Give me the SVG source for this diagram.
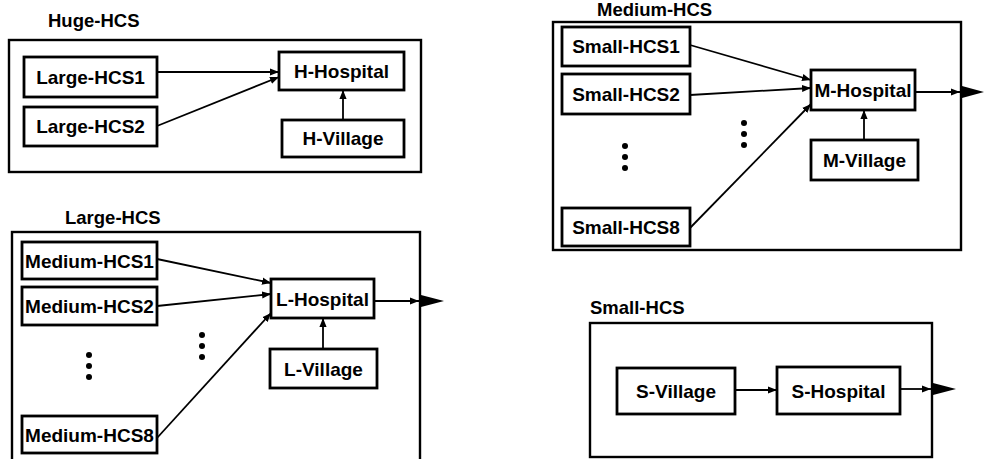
<svg xmlns="http://www.w3.org/2000/svg" width="984" height="459" viewBox="0 0 984 459">
  <defs>
    <marker id="tip" viewBox="0 0 10 10" refX="10" refY="5" markerWidth="9" markerHeight="9" markerUnits="userSpaceOnUse" orient="auto">
      <path d="M0,1 L10,5 L0,9 Z" fill="#000"/>
    </marker>
  </defs>
  <style>
    .frame { fill: #fff; stroke: #000; stroke-width: 2.4; }
    .box { fill: #fff; stroke: #000; stroke-width: 2.8; }
    .lbl { font-family: "Liberation Sans", Arial, sans-serif; font-weight: bold; font-size: 19px; fill: #000; }
    .title { font-family: "Liberation Sans", Arial, sans-serif; font-weight: bold; font-size: 18.5px; fill: #000; }
    .edge { stroke: #000; stroke-width: 1.8; fill: none; marker-end: url(#tip); }
    .dot { fill: #000; }
    .out { fill: #000; }
  </style>
  <rect width="984" height="459" fill="#fff"/>

  <!-- Huge-HCS frame -->
  <g id="huge-hcs">
    <text class="title" x="48" y="27">Huge-HCS</text>
    <rect class="frame" x="9" y="40" width="412" height="132"/>
  </g>
  <g id="large-hcs1"><rect class="box" x="24" y="57" width="133" height="40"/><text class="lbl" x="90.5" y="84" text-anchor="middle">Large-HCS1</text></g>
  <g id="large-hcs2"><rect class="box" x="24" y="107" width="133" height="39"/><text class="lbl" x="90.5" y="133" text-anchor="middle">Large-HCS2</text></g>
  <g id="h-hospital"><rect class="box" x="279" y="52" width="125" height="38"/><text class="lbl" x="341.5" y="78" text-anchor="middle">H-Hospital</text></g>
  <g id="h-village"><rect class="box" x="282" y="120" width="122" height="37"/><text class="lbl" x="343" y="145" text-anchor="middle">H-Village</text></g>

  <!-- Large-HCS frame -->
  <g id="large-hcs">
    <text class="title" x="65" y="224">Large-HCS</text>
    <rect class="frame" x="12" y="232" width="408" height="240"/>
  </g>
  <g id="medium-hcs1"><rect class="box" x="22" y="242" width="135" height="37"/><text class="lbl" x="89.5" y="267.5" text-anchor="middle">Medium-HCS1</text></g>
  <g id="medium-hcs2"><rect class="box" x="22" y="287" width="135" height="38"/><text class="lbl" x="89.5" y="313" text-anchor="middle">Medium-HCS2</text></g>
  <g id="medium-hcs8"><rect class="box" x="22" y="416" width="135" height="37"/><text class="lbl" x="89.5" y="441.5" text-anchor="middle">Medium-HCS8</text></g>
  <g id="l-hospital"><rect class="box" x="271" y="279" width="103" height="39"/><text class="lbl" x="322.5" y="305.5" text-anchor="middle">L-Hospital</text></g>
  <g id="l-village"><rect class="box" x="270" y="349" width="107" height="39"/><text class="lbl" x="323.5" y="375.5" text-anchor="middle">L-Village</text></g>
  <g id="large-dots">
    <circle class="dot" cx="89" cy="355" r="3"/><circle class="dot" cx="89" cy="366" r="3"/><circle class="dot" cx="89" cy="377" r="3"/>
    <circle class="dot" cx="202" cy="335" r="3"/><circle class="dot" cx="202" cy="346" r="3"/><circle class="dot" cx="202" cy="357" r="3"/>
  </g>

  <!-- Medium-HCS frame -->
  <g id="medium-hcs">
    <text class="title" x="597" y="16">Medium-HCS</text>
    <rect class="frame" x="553" y="22" width="408" height="228"/>
  </g>
  <g id="small-hcs1"><rect class="box" x="562" y="27" width="128" height="39"/><text class="lbl" x="626" y="53" text-anchor="middle">Small-HCS1</text></g>
  <g id="small-hcs2"><rect class="box" x="562" y="74" width="128" height="40"/><text class="lbl" x="626" y="101" text-anchor="middle">Small-HCS2</text></g>
  <g id="small-hcs8"><rect class="box" x="562" y="208" width="128" height="38"/><text class="lbl" x="626" y="234" text-anchor="middle">Small-HCS8</text></g>
  <g id="m-hospital"><rect class="box" x="811" y="70" width="104" height="40"/><text class="lbl" x="863" y="97" text-anchor="middle">M-Hospital</text></g>
  <g id="m-village"><rect class="box" x="811" y="140" width="107" height="40"/><text class="lbl" x="864.5" y="167" text-anchor="middle">M-Village</text></g>
  <g id="medium-dots">
    <circle class="dot" cx="625" cy="146" r="3"/><circle class="dot" cx="625" cy="157" r="3"/><circle class="dot" cx="625" cy="168" r="3"/>
    <circle class="dot" cx="744" cy="123" r="3"/><circle class="dot" cx="744" cy="134" r="3"/><circle class="dot" cx="744" cy="145" r="3"/>
  </g>

  <!-- Small-HCS frame -->
  <g id="small-hcs">
    <text class="title" x="590" y="314">Small-HCS</text>
    <rect class="frame" x="590" y="323" width="342" height="134"/>
  </g>
  <g id="s-village"><rect class="box" x="617" y="368" width="118" height="46"/><text class="lbl" x="676" y="398" text-anchor="middle">S-Village</text></g>
  <g id="s-hospital"><rect class="box" x="777" y="367" width="123" height="47"/><text class="lbl" x="838.5" y="398" text-anchor="middle">S-Hospital</text></g>

  <!-- Connectors -->
  <g id="connectors">
    <line class="edge" x1="157" y1="72" x2="279" y2="72"/>
    <line class="edge" x1="157" y1="126" x2="279" y2="77"/>
    <line class="edge" x1="343" y1="120" x2="343" y2="90"/>

    <line class="edge" x1="157" y1="259" x2="271" y2="283"/>
    <line class="edge" x1="157" y1="306" x2="271" y2="294"/>
    <line class="edge" x1="157" y1="438" x2="271" y2="313"/>
    <line class="edge" x1="323" y1="349" x2="323" y2="318"/>
    <line class="edge" x1="374" y1="301" x2="419" y2="301"/>
    <polygon class="out" points="421,295 444,301 421,307"/>

    <line class="edge" x1="690" y1="45" x2="811" y2="80"/>
    <line class="edge" x1="690" y1="95" x2="811" y2="88"/>
    <line class="edge" x1="690" y1="228" x2="811" y2="104"/>
    <line class="edge" x1="864" y1="140" x2="864" y2="110"/>
    <line class="edge" x1="915" y1="92" x2="960" y2="92"/>
    <polygon class="out" points="962,86 984,92 962,98"/>

    <line class="edge" x1="735" y1="390" x2="777" y2="390"/>
    <line class="edge" x1="900" y1="389" x2="931" y2="389"/>
    <polygon class="out" points="933,383 956,389 933,395"/>
  </g>
</svg>
